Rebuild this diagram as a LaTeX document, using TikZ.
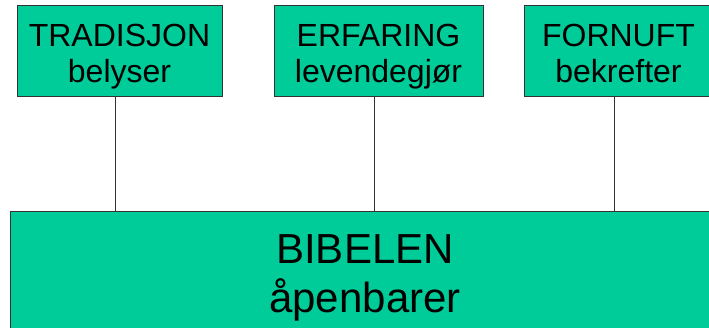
\documentclass[tikz,border=0pt]{standalone}
\usepackage{fontspec}
\setmainfont{Liberation Sans}
\usepackage{tikz}
\definecolor{boxgreen}{RGB}{0,204,153}
\tikzset{
  box/.style={draw=black!80, line width=1pt, fill=boxgreen, inner sep=0pt},
  smalltext/.style={align=center, font=\fontsize{32}{36}\selectfont},
  bigtext/.style={align=center, font=\fontsize{42}{49}\selectfont}
}

\begin{document}
\begin{tikzpicture}[x=1pt,y=1pt]
\useasboundingbox (0,0) rectangle (709,327);

\coordinate (tradpos) at (119.5,275.5);
\coordinate (erfpos) at (378.5,275.5);
\coordinate (fornpos) at (618.5,275.5);
\coordinate (bibpos) at (365,49);

\node[box, minimum width=205, minimum height=91] (trad) at (tradpos) {};
\node[box, minimum width=209, minimum height=91] (erf) at (erfpos) {};
\node[box, minimum width=189, minimum height=91] (forn) at (fornpos) {};
\node[box, minimum width=710, minimum height=134] (bib) at (bibpos) {};

\node[smalltext] (tradtext) at ([yshift=-6.3]trad.center) {\strut TRADISJON\\\strut belyser};
\node[smalltext] (erftext) at ([yshift=-6.3]erf.center) {\strut ERFARING\\\strut levendegjør};
\node[smalltext] (forntext) at ([yshift=-6.3]forn.center) {\strut FORNUFT\\\strut bekrefter};
\node[bigtext] (bibtext) at ([yshift=0.3]bib.center) {\strut BIBELEN\\\strut åpenbarer};

\foreach \top in {trad,erf,forn}
\draw[black!80, line width=1pt] ([xshift=-4]\top.south) -- ([xshift=-4]\top.south |- bib.north);

\end{tikzpicture}
\end{document}
